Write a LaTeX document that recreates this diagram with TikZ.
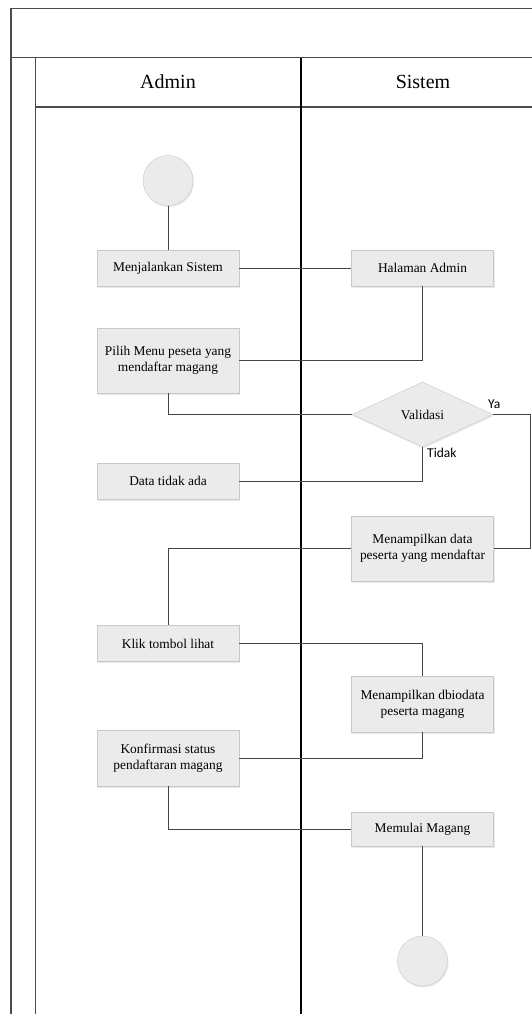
\documentclass[tikz,border=0pt]{standalone}
\usepackage{fontspec}
\setmainfont{Liberation Serif}
\newfontfamily\labelfont{Carlito}
\usetikzlibrary{shapes.geometric,shadows}
\definecolor{boxfill}{HTML}{EBEBEB}
\definecolor{boxline}{HTML}{C8C8C8}
\definecolor{wire}{HTML}{454545}
\definecolor{frame}{HTML}{4A4A4A}
\tikzset{
	act/.style={draw=boxline, fill=boxfill, drop shadow={opacity=0.18, shadow xshift=1pt, shadow yshift=-1.5pt}, minimum width=142pt, minimum height=36pt, inner sep=2pt, align=center, font=\fontsize{13.4}{16}\selectfont},
	cabang/.style={diamond, draw=boxline, fill=boxfill, drop shadow={opacity=0.18, shadow xshift=1pt, shadow yshift=-1.5pt}, inner sep=0pt, minimum width=141pt, minimum height=65pt, font=\fontsize{13.4}{16}\selectfont},
	titik/.style={circle, draw=boxline, fill=boxfill, drop shadow={opacity=0.18, shadow xshift=1pt, shadow yshift=-1.5pt}, inner sep=0pt, minimum size=50pt},
	wire/.style={draw=wire, line width=1pt},
	lane/.style={draw=frame, line width=1.3pt},
	jawab/.style={font=\labelfont\fontsize{13.5}{15}\selectfont, inner sep=0pt, anchor=west}
}

\begin{document}
\begin{tikzpicture}[x=1pt, y=-1pt]
			%%%%% START %%%%%
			\clip (0, 0) rectangle (532, 1014);
			
			\draw[lane] (11, 1020) -- (11, 8.5) -- (540, 8.5);
			\draw[lane] (11, 57.7) -- (540, 57.7);
			\draw[lane] (35.3, 57.7) -- (35.3, 1020);
			\draw[lane] (35.3, 107) -- (540, 107);
			\draw[line width=1.3pt, color=black] (301, 57.7) -- (301, 1020);
			
			\node[font=\fontsize{20}{22}\selectfont] (admin) at (168, 82) {Admin};
			\node[font=\fontsize{20}{22}\selectfont] (sistem) at (423, 82) {Sistem};
			
			\node[titik] (start) at (168, 180.5) {};
			\node[act] (jalan) at (168, 268) {Menjalankan Sistem};
			\node[act] (halaman) at (422.5, 268) {Halaman Admin};
			\node[act, minimum height=65pt] (pilih) at (168, 360.5) {Pilih Menu peseta yang\\mendaftar magang};
			\node[cabang] (valid) at (422.5, 414.5) {Validasi};
			\node[act] (tidakada) at (168, 481) {Data tidak ada};
			\node[act, minimum height=65pt] (tampil) at (422.5, 548.5) {Menampilkan data\\peserta yang mendaftar};
			\node[act] (klik) at (168, 643.5) {Klik tombol lihat};
			\node[act, minimum height=56pt] (biodata) at (422.5, 704) {Menampilkan dbiodata\\peserta magang};
			\node[act, minimum height=56pt] (konfirm) at (168, 758) {Konfirmasi status\\pendaftaran magang};
			\node[act, minimum height=34pt] (mulai) at (422.5, 829) {Memulai Magang};
			\node[titik] (selesai) at (422.5, 961) {};
			
			\coordinate (yakanan) at (530, 414.5);
			
			\draw[wire] (start) -- (jalan);
			\draw[wire] (jalan) -- (halaman);
			\draw[wire] (halaman.south) |- (pilih.east);
			\draw[wire] (pilih.south) |- (valid.west);
			\draw[wire] (valid.east) -- (yakanan) |- (tampil.east);
			\draw[wire] (valid.south) |- (tidakada.east);
			\draw[wire] (tampil.west) -| (klik.north);
			\draw[wire] (klik.east) -| (biodata.north);
			\draw[wire] (biodata.south) |- (konfirm.east);
			\draw[wire] (konfirm.south) |- (mulai.west);
			\draw[wire] (mulai) -- (selesai);
			
			\node[jawab] (ya) at (488, 404) {Ya};
			\node[jawab] (tidak) at (427, 453) {Tidak};
			%%%%% END %%%%%
\end{tikzpicture}
\end{document}
